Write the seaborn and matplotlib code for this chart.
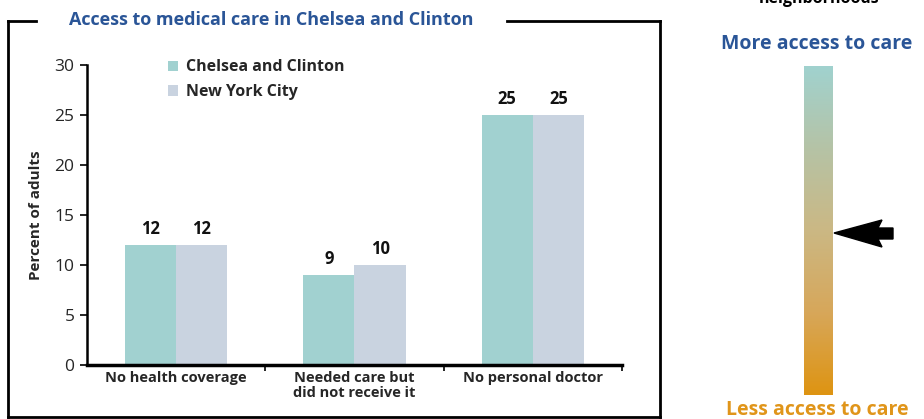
import numpy as np
import pandas as pd
import matplotlib
matplotlib.use("Agg")
import matplotlib.pyplot as plt
from matplotlib.lines import Line2D
from matplotlib.patches import Polygon, Patch
from matplotlib.colors import LinearSegmentedColormap
import seaborn as sns

# ---- data ----
categories = ["No health coverage", "Needed care but\ndid not receive it", "No personal doctor"]
areas = ["Chelsea and Clinton", "New York City"]
chelsea_clinton = [12, 9, 25]
new_york_city = [12, 10, 25]
y_ticks = [0, 5, 10, 15, 20, 25, 30]

TEAL = "#A1D1D0"
GREYBLUE = "#C9D3E0"
TITLE_BLUE = "#2A5597"
ORANGE = "#E0951A"

sns.set_theme(style="white")
plt.rcParams["font.family"] = ["Open Sans", "DejaVu Sans"]

W, H = 924, 419
fig = plt.figure(figsize=(W / 100, H / 100), dpi=100)


def fx(px):
    return px / W


def fy(py):
    return 1 - py / H


df = pd.DataFrame({
    "category": categories * 2,
    "area": [areas[0]] * 3 + [areas[1]] * 3,
    "value": chelsea_clinton + new_york_city,
})

ax = fig.add_axes([fx(87), fy(365), fx(622) - fx(87), fy(65) - fy(365)])
sns.barplot(data=df, x="category", y="value", hue="area", order=categories,
            hue_order=areas, palette=[TEAL, GREYBLUE], width=0.575,
            saturation=1, linewidth=0, legend=False, ax=ax)

for cont in ax.containers:
    ax.bar_label(cont, labels=[f"{v:g}" for v in cont.datavalues],
                 padding=5, fontsize=12, fontweight="bold", color="#111111")

ax.set_xlim(-0.5, 2.5)
ax.set_ylim(0, 30)
ax.set_yticks(y_ticks)
ax.set_yticklabels([str(t) for t in y_ticks], fontsize=12.5)
ax.set_xticks([0, 1, 2])
ax.set_xticklabels(categories, fontsize=10.5, fontweight="bold", linespacing=1.1)
ax.set_xticks([0.5, 1.5, 2.5], minor=True)
ax.tick_params(axis="x", which="major", length=0, pad=4)
ax.tick_params(axis="x", which="minor", length=4, width=1.2, color="black", direction="out", bottom=True)
ax.tick_params(axis="y", length=5, width=1.2, color="black", direction="out", left=True, pad=4)
ax.set_xlabel("")
ax.set_ylabel("Percent of adults", fontsize=11, fontweight="bold", labelpad=8)
for s in ["top", "right"]:
    ax.spines[s].set_visible(False)
ax.spines["left"].set_color("black")
ax.spines["left"].set_linewidth(1.8)
ax.spines["bottom"].set_color("black")
ax.spines["bottom"].set_linewidth(2.5)
ax.set_facecolor("none")

handles = [Patch(facecolor=TEAL, edgecolor="none"), Patch(facecolor=GREYBLUE, edgecolor="none")]
ax.legend(handles, areas, loc="upper left", bbox_to_anchor=(fx(154), fy(45)),
          bbox_transform=fig.transFigure, frameon=False, handlelength=0.6,
          handleheight=0.6, handletextpad=0.5, labelspacing=0.55,
          prop={"size": 11.5, "weight": "bold"})

# ---- frame around the chart, with a gap for the title ----
lw = 2.0
frame = [
    ([8, 36], [21, 21]),
    ([507, 660], [21, 21]),
    ([8, 8], [21, 417]),
    ([660, 660], [21, 417]),
    ([8, 660], [417, 417]),
]
for xs, ys in frame:
    fig.add_artist(Line2D([fx(x) for x in xs], [fy(y) for y in ys], color="black",
                          lw=lw, solid_capstyle="projecting"))

fig.text(fx(271), fy(20), "Access to medical care in Chelsea and Clinton",
         ha="center", va="center", fontsize=13, fontweight="bold", color=TITLE_BLUE)

# ---- access scale on the right ----
gax = fig.add_axes([fx(804), fy(395), fx(833) - fx(804), fy(66) - fy(395)])
cmap = LinearSegmentedColormap.from_list(
    "access", ["#A0D2CF", "#B5C3A6", "#CBB884", "#D7A75A", "#DE9412"])
grad = np.linspace(0, 1, 256).reshape(-1, 1)
gax.imshow(grad, aspect="auto", cmap=cmap, extent=[0, 1, 0, 1], origin="upper")
gax.set_axis_off()

arrow_px = [(834, 233), (882, 220), (878, 228), (893, 228), (893, 239), (878, 239), (882, 247)]
fig.patches.append(Polygon([(fx(x), fy(y)) for x, y in arrow_px], closed=True,
                           facecolor="black", edgecolor="black",
                           transform=fig.transFigure, figure=fig))

fig.text(fx(817), fy(44), "More access to care", ha="center", va="center",
         fontsize=14, fontweight="bold", color=TITLE_BLUE)
fig.text(fx(817), fy(410), "Less access to care", ha="center", va="center",
         fontsize=14, fontweight="bold", color=ORANGE)
fig.text(fx(819), fy(3), "neighborhoods", ha="center", va="baseline",
         fontsize=11.5, fontweight="bold", color="black")

fig.savefig("out.png", dpi=100)
